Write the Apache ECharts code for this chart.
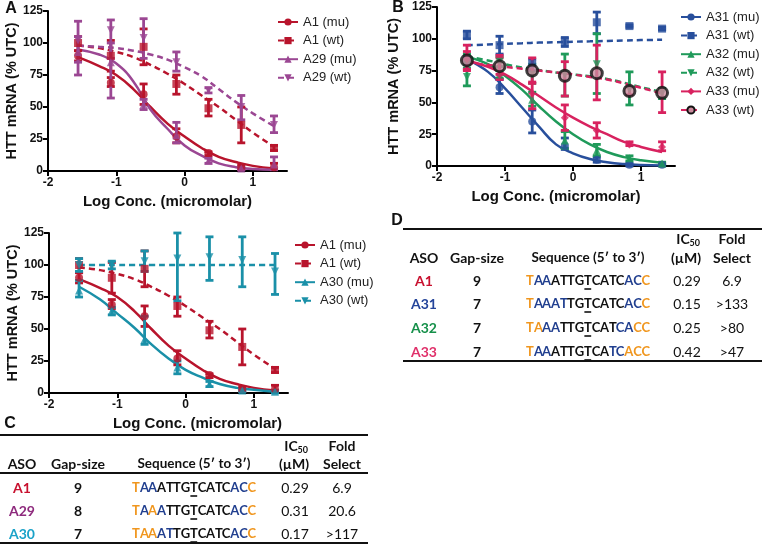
<!DOCTYPE html>
<html><head><meta charset="utf-8">
<script src="https://cdn.jsdelivr.net/npm/echarts@6/dist/echarts.min.js"></script>
<style>html,body{margin:0;padding:0;background:#fff}#c{width:763px;height:546px}</style>
</head><body><div id="c"></div>
<script>
// ---- dose positions (log10 µM) and curve sample positions ----
const X  = [-1.56, -1.08, -0.60, -0.12, 0.35, 0.83, 1.31];
const CX = [-1.56, -1.25, -1.0, -0.75, -0.5, -0.25, 0, 0.25, 0.5, 0.75, 1.0, 1.31];
const xTicks = [-2, -1, 0, 1];

// ---- A1 (panels A and C) ----
const a1MuPts = [90, 69, 60, 27, 14, 3, 3];
const a1MuLo  = [86, 66, 52, 22, 12, 1, 1];
const a1MuHi  = [94, 73, 68, 33, 15, 5, 6];
const a1MuFit = [89, 82, 75, 64, 50, 37, 27, 18, 11, 7, 4, 2];
const a1WtPts = [100, 90, 97, 68, 49, 36, 18];
const a1WtLo  = [94, 78, 83, 60, 43, 22, 16];
const a1WtHi  = [105, 102, 111, 75, 56, 50, 20];
const a1WtFit = [98, 96, 93, 89, 83, 76, 68, 59, 50, 40, 30, 19];
// ---- A29 ----
const a29MuPts = [93, 85, 52, 28, 8, 2, 5];
const a29MuLo  = [75, 57, 48, 22, 6, 1, 1];
const a29MuHi  = [105, 100, 56, 38, 10, 3, 11];
const a29MuFit = [95, 91, 84, 70, 48, 33, 20, 12, 6, 3, 1.5, 1];
const a29WtPts = [102, 110, 104, 85, 63, 50, 36];
const a29WtLo  = [85, 88, 88, 78, 61, 40, 30];
const a29WtHi  = [117, 118, 119, 93, 65, 59, 43];
const a29WtFit = [98, 97, 96, 94, 91, 87, 81, 74, 64, 54, 45, 35];
// ---- A30 ----
const a30MuPts = [80, 64, 42, 20, 7, 2, 1];
const a30MuLo  = [75, 61, 38, 15, 5, 1, 0];
const a30MuHi  = [88, 67, 60, 25, 9, 3, 2];
const a30MuFit = [83, 73, 62, 51, 38, 27, 18, 12, 7, 4, 2.5, 1];
const a30WtPts = [100, 100, 103, 105, 106, 104, 95];
const a30WtLo  = [95, 97, 95, 72, 88, 83, 77];
const a30WtHi  = [105, 103, 111, 125, 122, 122, 109];
const a30WtFit = [100, 100, 100, 100, 100, 100, 100, 100, 100, 100, 100, 100];
// ---- A31 ----
const a31MuPts = [83, 62, 35, 16, 5, 1, 1];
const a31MuLo  = [80, 57, 26, 13, 3, 0, 0];
const a31MuHi  = [86, 68, 44, 22, 7, 2, 2];
const a31MuFit = [84, 74, 61, 46, 31, 17, 10, 5.5, 3, 1.5, 0.7, 0.3];
const a31WtPts = [103, 95, 80, 98, 113, 110, 108];
const a31WtLo  = [100, 88, 75, 94, 104, 109, 107];
const a31WtHi  = [106, 102, 84, 101, 121, 111, 109];
const a31WtFit = [95, 95.5, 96, 96.5, 97, 97.3, 97.7, 98, 98.3, 98.6, 99, 99.2];
// ---- A32 ----
const a32MuPts = [84, 72, 52, 20, 12, 6, 2];
const a32MuLo  = [80, 69, 47, 14, 8, 4, 1];
const a32MuHi  = [88, 75, 58, 27, 17, 8, 3];
const a32MuFit = [86, 80, 71, 60, 47, 35, 25, 17, 11, 7, 4.5, 2.5];
const a32WtPts = [70, 82, 72, 72, 80, 60, 57];
const a32WtLo  = [63, 78, 65, 55, 57, 48, 53];
const a32WtHi  = [77, 86, 80, 88, 104, 74, 61];
const a32WtFit = [86, 83, 80, 77.5, 75.5, 73.5, 72, 70.5, 68.5, 65.5, 62, 58];
// ---- A33 ----
const a33MuPts = [84, 72, 57, 38, 28, 17, 15];
const a33MuLo  = [75, 68, 45, 28, 22, 16, 12];
const a33MuHi  = [95, 87, 66, 48, 34, 19, 19];
const a33MuFit = [83, 78, 72, 64, 55, 46, 38, 31, 25, 19, 15, 11];
const a33WtPts = [83, 78.5, 75, 71, 73, 59, 57.5];
const a33WtLo  = [76, 72, 65, 55, 52, 56, 42];
const a33WtHi  = [90, 85, 85, 82, 95, 62, 74];
const a33WtFit = [81, 79.5, 78, 76.5, 75, 73.5, 72, 70, 68, 65, 61.5, 57];

// ---- tables ----
const tblHeader = ['ASO', 'Gap-size', 'Sequence (5\u2032 to 3\u2032)', 'IC', '(\u00B5M)', 'Fold', 'Select'];
const tblC_aso  = ['A1', 'A29', 'A30'];
const tblC_gap  = ['9', '8', '7'];
const tblC_seq  = ['TAAATTGTCATCACC', 'TAAATTGTCATCACC', 'TAAATTGTCATCACC'];
const tblC_col  = ['OBBKKKKKKKKKBBO', 'OBOBKKKKKKKKBBO', 'OOOBBKKKKKKKBBO'];
const tblC_ic50 = ['0.29', '0.31', '0.17'];
const tblC_fold = ['6.9', '20.6', '>117'];
const tblD_aso  = ['A1', 'A31', 'A32', 'A33'];
const tblD_gap  = ['9', '7', '7', '7'];
const tblD_seq  = ['TAAATTGTCATCACC', 'TAAATTGTCATCACC', 'TAAATTGTCATCACC', 'TAAATTGTCATCACC'];
const tblD_col  = ['OBBKKKKKKKKKBBO', 'OBBBBKKKKKKKBBO', 'OOBBKKKKKKKBBOO', 'OBBKKKKKKKBBOOO'];
const tblD_ic50 = ['0.29', '0.15', '0.25', '0.42'];
const tblD_fold = ['6.9', '>133', '>80', '>47'];

// ---- styles ----
const RED = '#b8142c', PURPLE = '#9b4793', BLUE = '#284f9c', GREEN = '#1f9a5a', PINK = '#d8225f', TEAL = '#1a90a8';
const ASOCOL = {A1: '#c8102e', A29: '#8e2a7d', A30: '#1aa2c8', A31: '#24449a', A32: '#16904a', A33: '#e0306a'};
const SEQCOL = {O: '#f0961e', B: '#213f8f', K: '#111111'};
const FONT = 'Liberation Sans, Arial, sans-serif';
const TFONT = 'Lato, Calibri, sans-serif';
const INV_TRI = 'path://M0,0 L10,0 L5,9 Z';

const chart = echarts.init(document.getElementById('c'), null, {renderer: 'canvas'});

const grids = [
  {left: 48, top: 11, width: 239, height: 160},
  {left: 437, top: 7, width: 238, height: 159},
  {left: 49, top: 233, width: 239, height: 160}
];
const yGaps = [27, 36, 26];
const xNamePad = [0, 0, 58];

const xAxes = grids.map((gr, i) => ({
  gridIndex: i, type: 'value', min: -2, max: 1.5,
  name: 'Log Conc. (micromolar)', nameLocation: 'middle', nameGap: 23,
  nameTextStyle: {fontFamily: FONT, fontWeight: 'bold', fontSize: 15, color: '#111', padding: [0, 0, 0, xNamePad[i]]},
  axisLine: {onZero: false, lineStyle: {color: '#000', width: 2}},
  axisTick: {customValues: xTicks, length: 5, lineStyle: {color: '#000', width: 2}},
  axisLabel: {customValues: xTicks, fontFamily: FONT, fontWeight: 'bold', fontSize: 12, color: '#111', margin: 6},
  splitLine: {show: false}
}));
const yAxes = grids.map((gr, i) => ({
  gridIndex: i, type: 'value', min: 0, max: 125, interval: 25,
  name: 'HTT mRNA (% UTC)', nameLocation: 'middle', nameGap: yGaps[i],
  nameTextStyle: {fontFamily: FONT, fontWeight: 'bold', fontSize: 14.5, color: '#111'},
  axisLine: {show: true, onZero: false, lineStyle: {color: '#000', width: 2}},
  axisTick: {show: true, length: 5, lineStyle: {color: '#000', width: 2}},
  axisLabel: {fontFamily: FONT, fontWeight: 'bold', fontSize: 12, color: '#111', margin: 5},
  splitLine: {show: false}
}));

function errRender(color) {
  return function (params, api) {
    const x = api.value(0), lo = api.value(1), hi = api.value(2);
    const p1 = api.coord([x, lo]), p2 = api.coord([x, hi]);
    const w = 4, st = {stroke: color, lineWidth: 2.8};
    return {type: 'group', children: [
      {type: 'line', shape: {x1: p1[0], y1: p1[1], x2: p2[0], y2: p2[1]}, style: st},
      {type: 'line', shape: {x1: p1[0] - w, y1: p1[1], x2: p1[0] + w, y2: p1[1]}, style: st},
      {type: 'line', shape: {x1: p2[0] - w, y1: p2[1], x2: p2[0] + w, y2: p2[1]}, style: st}
    ]};
  };
}

const series = [];
function addSet(gi, name, fit, pts, lo, hi, color, symbol, dashed, opts) {
  opts = opts || {};
  const size = opts.size || 8;
  const item = opts.itemStyle || {color: color};
  series.push({
    type: 'line', name: name, xAxisIndex: gi, yAxisIndex: gi,
    data: CX.map((x, i) => [x, fit[i]]), smooth: 0.45, showSymbol: false,
    symbol: symbol, symbolSize: size, itemStyle: item,
    lineStyle: {color: color, width: 2.5, type: dashed ? [6, 4] : 'solid'},
    z: 2, silent: true
  });
  series.push({
    type: 'custom', name: name + ' err', xAxisIndex: gi, yAxisIndex: gi,
    renderItem: errRender(opts.errColor || color),
    data: X.map((x, i) => [x, lo[i], hi[i]]), encode: {x: 0, y: [1, 2]}, z: 3, silent: true
  });
  series.push({
    type: 'scatter', name: name + ' pts', xAxisIndex: gi, yAxisIndex: gi,
    data: X.map((x, i) => [x, pts[i]]), symbol: symbol, symbolSize: size,
    itemStyle: item, z: opts.z || 4, silent: true
  });
}

// Panel A
addSet(0, 'A1 (mu)', a1MuFit, a1MuPts, a1MuLo, a1MuHi, RED, 'circle', false);
addSet(0, 'A1 (wt)', a1WtFit, a1WtPts, a1WtLo, a1WtHi, RED, 'rect', true);
addSet(0, 'A29 (mu)', a29MuFit, a29MuPts, a29MuLo, a29MuHi, PURPLE, 'triangle', false);
addSet(0, 'A29 (wt)', a29WtFit, a29WtPts, a29WtLo, a29WtHi, PURPLE, INV_TRI, true);
// Panel B
addSet(1, 'A31 (mu)', a31MuFit, a31MuPts, a31MuLo, a31MuHi, BLUE, 'circle', false);
addSet(1, 'A31 (wt)', a31WtFit, a31WtPts, a31WtLo, a31WtHi, BLUE, 'rect', true);
addSet(1, 'A32 (mu)', a32MuFit, a32MuPts, a32MuLo, a32MuHi, GREEN, 'triangle', false);
addSet(1, 'A32 (wt)', a32WtFit, a32WtPts, a32WtLo, a32WtHi, GREEN, INV_TRI, true);
addSet(1, 'A33 (mu)', a33MuFit, a33MuPts, a33MuLo, a33MuHi, PINK, 'diamond', false);
addSet(1, 'A33 (wt)', a33WtFit, a33WtPts, a33WtLo, a33WtHi, PINK, 'circle', true,
  {size: 11, z: 6, errColor: PINK, itemStyle: {color: '#c98a9c', borderColor: '#111', borderWidth: 3}});
// Panel C
addSet(2, 'A1 (mu) ', a1MuFit, a1MuPts, a1MuLo, a1MuHi, RED, 'circle', false);
addSet(2, 'A1 (wt) ', a1WtFit, a1WtPts, a1WtLo, a1WtHi, RED, 'rect', true);
addSet(2, 'A30 (mu)', a30MuFit, a30MuPts, a30MuLo, a30MuHi, TEAL, 'triangle', false);
addSet(2, 'A30 (wt)', a30WtFit, a30WtPts, a30WtLo, a30WtHi, TEAL, INV_TRI, true);

function legend(left, top, names) {
  return {
    left: left, top: top, orient: 'vertical', itemWidth: 20, itemHeight: 9, itemGap: 4.6,
    selectedMode: false, padding: 0,
    textStyle: {fontFamily: FONT, fontSize: 13, color: '#222', lineHeight: 14},
    data: names.map(n => ({name: n}))
  };
}
const legends = [
  legend(277, 15, ['A1 (mu)', 'A1 (wt)', 'A29 (mu)', 'A29 (wt)']),
  legend(680, 10, ['A31 (mu)', 'A31 (wt)', 'A32 (mu)', 'A32 (wt)', 'A33 (mu)', 'A33 (wt)']),
  legend(294, 238, ['A1 (mu) ', 'A1 (wt) ', 'A30 (mu)', 'A30 (wt)'])
];

// ---- table graphics ----
const mctx = document.createElement('canvas').getContext('2d');
const g = [];
function txt(x, y, s, o) {
  o = o || {};
  g.push({type: 'text', x: x, y: y, silent: true, style: {
    text: s, fill: o.fill || '#111', align: o.align || 'center', verticalAlign: 'middle',
    fontFamily: o.family || TFONT, fontSize: o.size || 14, fontWeight: o.weight || 'normal'
  }});
}
function hline(x1, x2, y, w) {
  g.push({type: 'line', silent: true, shape: {x1: x1, y1: y, x2: x2, y2: y}, style: {stroke: '#111', lineWidth: w || 2}});
}
function seqText(cx, y, seq, cols) {
  const f = 'bold 13px Lato';
  mctx.font = f;
  const total = mctx.measureText(seq).width;
  let x = cx - total / 2;
  for (let i = 0; i < seq.length; i++) {
    const pre = mctx.measureText(seq.slice(0, i)).width;
    const wch = mctx.measureText(seq[i]).width;
    txt(x + pre, y, seq[i], {fill: SEQCOL[cols[i]], align: 'left', size: 13, weight: 'bold'});
    if (i === 7) {
      g.push({type: 'line', silent: true, shape: {x1: x + pre + 0.5, y1: y + 8, x2: x + pre + wch - 0.5, y2: y + 8},
        style: {stroke: '#111', lineWidth: 1.6}});
    }
  }
}
function table(cfg) {
  hline(cfg.x1, cfg.x2, cfg.top);
  if (cfg.mid) hline(cfg.x1, cfg.x2, cfg.mid);
  hline(cfg.x1, cfg.x2, cfg.bottom);
  const c = cfg.cols, h1 = cfg.h1, h2 = cfg.h2;
  txt(c[0], h2, tblHeader[0], {weight: 'bold'});
  txt(c[1], h2, tblHeader[1], {weight: 'bold'});
  txt(c[2], h2, tblHeader[2], {weight: 'bold', size: 13.5});
  txt(c[3] - 3, h1, tblHeader[3], {weight: 'bold'});
  txt(c[3] + 3.5, h1 + 4, '50', {weight: 'bold', size: 9, align: 'left'});
  txt(c[3], h2, tblHeader[4], {weight: 'bold'});
  txt(c[4], h1, tblHeader[5], {weight: 'bold'});
  txt(c[4], h2, tblHeader[6], {weight: 'bold'});
  cfg.aso.forEach((a, i) => {
    const y = cfg.rows[i];
    txt(c[0], y, a, {weight: 'bold', fill: ASOCOL[a]});
    txt(c[1], y, cfg.gap[i], {weight: 'bold'});
    seqText(c[2], y, cfg.seq[i], cfg.col[i]);
    txt(c[3] + 1, y, cfg.ic[i]);
    txt(c[4], y, cfg.fold[i]);
  });
}
table({x1: 0, x2: 368, top: 435, mid: 473, bottom: 543, h1: 446, h2: 464,
  cols: [22, 78, 194, 294, 342], rows: [488, 511, 534],
  aso: tblC_aso, gap: tblC_gap, seq: tblC_seq, col: tblC_col, ic: tblC_ic50, fold: tblC_fold});
table({x1: 403, x2: 762, top: 229, mid: 0, bottom: 361, h1: 239, h2: 258,
  cols: [424, 477, 588, 686, 732], rows: [281, 304, 328, 352],
  aso: tblD_aso, gap: tblD_gap, seq: tblD_seq, col: tblD_col, ic: tblD_ic50, fold: tblD_fold});

// panel letters
[['A', 11, 9], ['B', 398, 8], ['C', 10, 424], ['D', 397, 221]].forEach(p =>
  txt(p[1], p[2], p[0], {family: FONT, weight: 'bold', size: 16}));

chart.setOption({
  animation: false,
  backgroundColor: '#fff',
  grid: grids,
  xAxis: xAxes,
  yAxis: yAxes,
  legend: legends,
  series: series,
  graphic: {elements: g}
});
</script></body></html>
